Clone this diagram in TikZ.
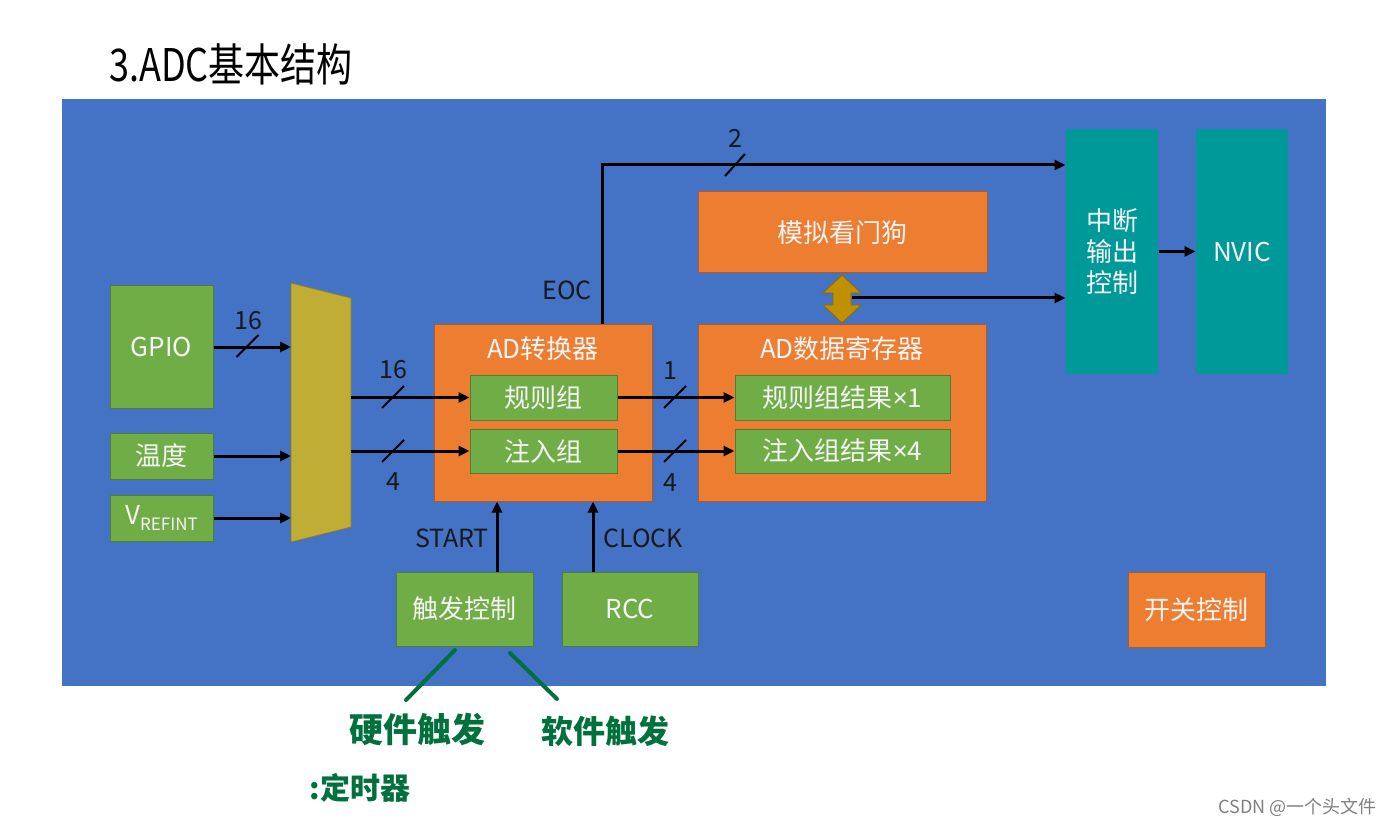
\documentclass[tikz,border=0pt]{standalone}
\usepackage{fontspec}
\setmainfont{Noto Sans CJK SC}
\newfontfamily\latinf{Noto Sans}
\usetikzlibrary{arrows.meta,calc}
\definecolor{bg}{HTML}{4472C4}
\definecolor{gfill}{HTML}{70AD47}
\definecolor{gline}{HTML}{507E32}
\definecolor{ofill}{HTML}{ED7D31}
\definecolor{oline}{HTML}{AE5A21}
\definecolor{tealbox}{HTML}{009999}
\definecolor{muxc}{HTML}{BFAD36}
\definecolor{muxl}{HTML}{8C7F28}
\definecolor{dblc}{HTML}{BF9000}
\definecolor{dbll}{HTML}{8F6B00}
\definecolor{hand}{HTML}{00703C}
\definecolor{txt}{HTML}{F4F4F4}
\tikzset{
  box/.style={line width=1pt, text=txt, font=\fontsize{26}{31}\selectfont, inner sep=0pt, align=center},
  gbox/.style={box, fill=gfill, draw=gline},
  obox/.style={box, fill=ofill, draw=oline},
  tbox/.style={box, fill=tealbox, draw=none},
  arr/.style={line width=3pt, -{Triangle[length=11pt,width=10pt]}},
  slashline/.style={line width=2pt},
  lab/.style={font=\fontsize{25}{29}\selectfont, text=black!90, inner sep=0pt},
  handtext/.style={font=\bfseries\fontsize{34}{38}\selectfont, text=hand, inner sep=0pt},
}
\begin{document}
\begin{tikzpicture}[x=1pt,y=-1pt]
\useasboundingbox (0,0) rectangle (1392,826);
\fill[white] (0,0) rectangle (1392,826);
\fill[bg] (62,99) rectangle (1326,686);

% title
\node[font=\fontsize{36}{40}\selectfont, inner sep=0pt, yscale=1.25] (title) at (231,64) {3.ADC基本结构};

% input boxes
\node[gbox, minimum width=103pt, minimum height=122pt] (gpio) at (161.5,347) {GPIO};
\node[gbox, minimum width=103pt, minimum height=46pt] (temp) at (161.5,456) {温度};
\node[gbox, minimum width=103pt, minimum height=46pt] (vref) at (161.5,518) {V\raisebox{-0.25em}{\fontsize{17}{17}\selectfont REFINT}};

% mux
\coordinate (m1) at (291,283);
\coordinate (m2) at (351,298);
\coordinate (m3) at (351,527);
\coordinate (m4) at (291,542);
\filldraw[fill=muxc, draw=muxl, line width=0.8pt] (m1) -- (m2) -- (m3) -- (m4) -- cycle;

% AD converter
\node[obox, minimum width=218pt, minimum height=177pt] (adc) at (543,412.5) {};
\node[box] (adct) at (543,349) {AD转换器};
\node[gbox, minimum width=147pt, minimum height=45pt] (reg) at (543.5,397.5) {规则组};
\node[gbox, minimum width=147pt, minimum height=44pt] (inj) at (543.5,451) {注入组};

% data register
\node[obox, minimum width=288pt, minimum height=177pt] (dr) at (842,412.5) {};
\node[box] (drt) at (842,349) {AD数据寄存器};
\node[gbox, minimum width=215pt, minimum height=45pt] (regr) at (842.5,397.5) {规则组结果{\latinf ×}1};
\node[gbox, minimum width=215pt, minimum height=44pt] (injr) at (842.5,451) {注入组结果{\latinf ×}4};

% watchdog
\node[obox, minimum width=289pt, minimum height=81pt] (awd) at (842.5,232.5) {模拟看门狗};

% interrupt / NVIC
\node[tbox, minimum width=92pt, minimum height=245pt] (it) at (1112,251.5) {中断\\输出\\控制};
\node[tbox, minimum width=92pt, minimum height=245pt] (nvic) at (1242,251.5) {NVIC};

% bottom boxes
\node[gbox, minimum width=137pt, minimum height=74pt] (trig) at (464.5,609) {触发控制};
\node[gbox, minimum width=136pt, minimum height=74pt] (rcc) at (630,609) {RCC};
\node[obox, minimum width=137pt, minimum height=75pt] (sw) at (1196.5,609.5) {开关控制};

% arrows into mux
\draw[arr] (gpio.east) -- (gpio.east -| m1);
\draw[arr] (temp.east) -- (temp.east -| m1);
\draw[arr] (vref.east) -- (vref.east -| m1);
\draw[slashline] (247.5,346) ++(-11,11) -- ++(22,-22);
\node[lab] (l16a) at (248,321) {16};

% mux to groups
\draw[arr] (reg.west -| m2) -- (reg.west);
\draw[arr] (inj.west -| m2) -- (inj.west);
\draw[slashline] (393,397) ++(-11,11) -- ++(22,-22);
\draw[slashline] (393,451) ++(-11,11) -- ++(22,-22);
\node[lab] (l16b) at (393,370) {16};
\node[lab] (l4a) at (393,482) {4};

% groups to results
\draw[arr] (reg.east) -- (regr.west);
\draw[arr] (inj.east) -- (injr.west);
\draw[slashline] (675,397) ++(-11,11) -- ++(22,-22);
\draw[slashline] (675,451) ++(-11,11) -- ++(22,-22);
\node[lab] (l1) at (670,371) {1};
\node[lab] (l4b) at (670,483) {4};

% EOC
\coordinate (eoc) at (602,165);
\draw[arr] (adc.north -| eoc) -- (eoc) -- (eoc -| it.west);
\draw[slashline] (735,165) ++(-10,11) -- ++(20,-22);
\node[lab] (l2) at (735,138) {2};
\node[lab] (leoc) at (567,290) {EOC};

% watchdog double arrow
\filldraw[fill=dblc, draw=dbll, line width=0.8pt]
  (842,275) -- (823,293) -- (833,293) -- (833,305) -- (823,305) -- (842,323)
  -- (861,305) -- (851,305) -- (851,293) -- (861,293) -- cycle;
\coordinate (dbl) at (852,298);
\draw[arr] (dbl) -- (dbl -| it.west);

% it to nvic
\draw[arr] (it.east) -- (nvic.west);

% START / CLOCK
\coordinate (st) at (497,0);
\coordinate (ck) at (593,0);
\draw[arr] (trig.north -| st) -- (adc.south -| st);
\draw[arr] (rcc.north -| ck) -- (adc.south -| ck);
\node[lab] (lst) at (452,538) {START};
\node[lab] (lck) at (643,538) {CLOCK};

% handwritten notes
\draw[hand, line width=4pt, line cap=round] (455,650) -- (406,700);
\draw[hand, line width=4pt, line cap=round] (510,653) -- (557,699);
\node[handtext] (hw) at (417,729) {硬件触发};
\node[handtext, font=\bfseries\fontsize{32}{36}\selectfont] (sw2) at (605,731) {软件触发};
\node[handtext, font=\bfseries\fontsize{30}{34}\selectfont] (tim) at (360,788) {:定时器};

% watermark
\node[anchor=east, font=\fontsize{18}{20}\selectfont, text=gray, inner sep=0pt] (wm) at (1377,807) {CSDN @一个头文件};
\end{tikzpicture}
\end{document}
